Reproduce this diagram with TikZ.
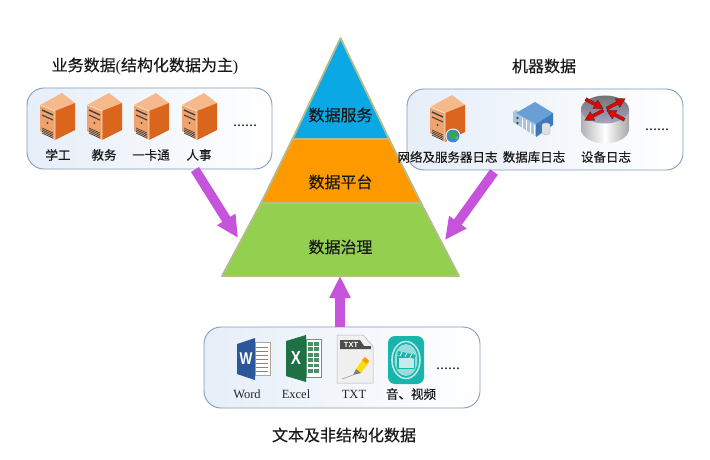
\documentclass[tikz,border=0pt]{standalone}
\usepackage{fontspec}
\setmainfont{Liberation Serif}
\newfontfamily\cjk[FakeBold=0.25]{Noto Sans CJK SC}
\newfontfamily\iconfont{Liberation Sans}
\usetikzlibrary{arrows.meta,shapes.geometric}
\definecolor{boxedge}{HTML}{7F9DBD}
\definecolor{boxtint}{HTML}{E6EEF8}
\definecolor{pyredge}{HTML}{B4BC8C}
\definecolor{pyrblue}{HTML}{0BA8E6}
\definecolor{pyrorange}{HTML}{FF9900}
\definecolor{pyrgreen}{HTML}{93D04F}
\definecolor{arrowpurple}{HTML}{C553DC}
\definecolor{srvfront}{HTML}{F0A36C}
\definecolor{srvtop}{HTML}{F6B98C}
\definecolor{srvside}{HTML}{D9661C}
\definecolor{wordblue}{HTML}{2B579A}
\definecolor{excelgreen}{HTML}{1F7145}
\definecolor{vidteal}{HTML}{17B5AC}
\definecolor{dbtop}{HTML}{6A9FD6}
\definecolor{dbside}{HTML}{3C79B8}
\definecolor{dbfront}{HTML}{A9C4E0}
\tikzset{
  groupbox/.style={draw=boxedge,line width=0.9pt,rounded corners=17pt,left color=boxtint,right color=white},
  layer/.style={draw=pyredge,line width=1.8pt,line join=round},
  title/.style={font=\cjk\fontsize{16}{18}\selectfont,text=black!90,inner sep=0pt},
  bigtitle/.style={font=\cjk\fontsize{16}{18}\selectfont,text=black!90,inner sep=0pt},
  lab/.style={font=\cjk\fontsize{12.5}{14}\selectfont,text=black!90,inner sep=0pt},
  latinlab/.style={font=\fontsize{12.5}{14}\selectfont,text=black!85,inner sep=0pt},
  dots/.style={font=\fontsize{16}{16}\selectfont,text=black!85,inner sep=0pt,anchor=base},
  bigarrow/.style={draw=arrowpurple,line width=9.5pt,-{Triangle[length=22pt,width=20pt,fill=arrowpurple]}},
  srvline/.style={draw=black!75,line width=0.8pt},
  redarrow/.style={draw=black!80,line width=0.3pt,fill=red!92!black},
  wlines/.style={draw=wordblue!70,line width=0.8pt},
  iconletter/.style={font=\iconfont\bfseries\fontsize{#1}{#1}\selectfont,text=white,inner sep=0pt,xscale=0.8},
}
\newcommand{\serverpic}[2]{%
  \begin{scope}[shift={(#1,#2)}]
    \fill[srvfront] (1,12) -- (16,18) -- (16,47) -- (1,38) -- cycle;
    \fill[srvtop] (1,12) -- (23,0) -- (36,10) -- (16,18) -- cycle;
    \fill[srvside] (16,18) -- (36,10) -- (36,37) -- (16,47) -- cycle;
    \draw[white!70!srvtop,line width=0.6pt] (1,12) -- (16,18) -- (16,47);
    \draw[srvline,line width=1.4pt] (3,17) -- (14,22);
    \draw[srvline,line width=1.1pt] (3,22) -- (14,27);
    \fill[black!70] (8.5,30) circle (1.2);
    \foreach \k in {0,1.7,3.4,5.1} \draw[srvline,line width=0.7pt] (3,35+\k) -- (14,40+\k);
  \end{scope}}
\begin{document}
\begin{tikzpicture}[x=1pt,y=-1pt]
\useasboundingbox (0,0) rectangle (710,460);
\fill[white] (0,0) rectangle (710,460);

% group boxes
\node[groupbox,minimum width=245pt,minimum height=81pt,inner sep=0pt] (bizbox) at (149.5,128.5) {};
\node[groupbox,minimum width=276pt,minimum height=81pt,inner sep=0pt] (machbox) at (545,129.5) {};
\node[groupbox,minimum width=276pt,minimum height=81pt,inner sep=0pt] (textbox) at (342,367.5) {};

% pyramid
\coordinate (apex) at (340.5,38);
\coordinate (bl) at (222,276);
\coordinate (br) at (459,276);
\coordinate (l1) at (292.5,139);
\coordinate (r1) at (389,139);
\coordinate (l2) at (261,203);
\coordinate (r2) at (421,203);
\filldraw[layer,fill=pyrgreen] (l2) -- (r2) -- (br) -- (bl) -- cycle;
\filldraw[layer,fill=pyrorange] (l1) -- (r1) -- (r2) -- (l2) -- cycle;
\filldraw[layer,fill=pyrblue] (apex) -- (r1) -- (l1) -- cycle;
\node[bigtitle] (svc) at (340.5,115) {数据服务};
\node[bigtitle] (plat) at (340.5,182) {数据平台};
\node[bigtitle] (gov) at (340.5,247) {数据治理};

% arrows
\coordinate (a1s) at (195,169.5);
\coordinate (a1e) at (238,238);
\coordinate (a2s) at (494,172);
\coordinate (a2e) at (445,240);
\coordinate (a3s) at (340,327);
\coordinate (a3e) at (340,276);
\draw[bigarrow] (a1s) -- (a1e);
\draw[bigarrow] (a2s) -- (a2e);
\draw[bigarrow] (a3s) -- (a3e);

% titles
\node[title] (t1) at (145,66) {\cjk 业务数据{\rmfamily(}结构化数据为主{\rmfamily)}};
\node[title] (t2) at (544,66) {机器数据};
\node[bigtitle] (t3) at (344,435) {文本及非结构化数据};

% business servers
\serverpic{39}{93}
\serverpic{86}{93}
\serverpic{133}{93}
\serverpic{181}{93}
\node[lab] (l-a) at (58,155) {学工};
\node[lab] (l-b) at (104,155) {教务};
\node[lab] (l-c) at (151,155) {一卡通};
\node[lab] (l-d) at (199,155) {人事};
\node[dots] (d1) at (245,126.5) {......};

% machine icons
\serverpic{429}{95}
\fill[white] (453,136) circle (7.5);
\fill[cyan!55!blue!80] (453,136) circle (6.5);
\fill[green!60!black!80] (449,133) -- (454,131) -- (456,135) -- (453,139) -- (450,138) -- cycle;
\fill[green!70!black!70] (457,138) circle (1.8);
\node[lab] (m-a) at (447.5,157) {网络及服务器日志};
\node[lab] (m-b) at (534,157) {数据库日志};
\node[lab] (m-c) at (606,157) {设备日志};
\node[dots] (d2) at (657,130.5) {......};

% database server
\fill[dbfront] (513,112) -- (516,110) -- (537,124) -- (537,137) -- (513,122) -- cycle;
\fill[dbtop] (516,113) -- (535,102) -- (553,113) -- (536,124) -- cycle;
\fill[dbside] (536,124) -- (553,113) -- (553,125) -- (536,137) -- cycle;
\foreach \k in {0,4,8,12} \draw[white,line width=1pt] (522+\k,118+0.6*\k) -- (522+\k,128+0.6*\k);
\fill[black!70] (517.5,118) circle (1.3) (517.5,123) circle (1.3);
\fill[black!12,draw=black!35,line width=0.3pt] (542,124.5) -- (542,133) arc[start angle=180,end angle=0,x radius=4,y radius=1.6] -- (550,124.5) arc[start angle=0,end angle=-180,x radius=4,y radius=1.6] -- cycle;

% router
\shade[left color=black!30,right color=black!35,middle color=white] (581,109) -- (581,129) arc[start angle=180,end angle=0,x radius=24,y radius=14.5] -- (629,109) -- cycle;
\shade[top color=black!55,bottom color=blue!35!black!35] (605,109.5) ellipse [x radius=24,y radius=14];
\begin{scope}[shift={(605,109.5)}]
  \foreach \ang/\dir in {152/-1,28/1,208/1,332/-1}{
    \begin{scope}[rotate=\ang]
      \ifnum\dir=1
        \filldraw[redarrow] (2,-1.6) -- (14,-1.6) -- (14,-5) -- (23,0) -- (14,5) -- (14,1.6) -- (2,1.6) -- cycle;
      \else
        \filldraw[redarrow] (22,-1.6) -- (11,-1.6) -- (11,-5) -- (2,0) -- (11,5) -- (11,1.6) -- (22,1.6) -- cycle;
      \fi
    \end{scope}}
\end{scope}

% Word icon
\fill[white,draw=black!35,line width=0.4pt] (255,342) rectangle (270,375);
\foreach \k in {0,1,2,3,4,5,6} \draw[wlines] (256,347+4*\k) -- (268,347+4*\k);
\fill[wordblue] (237,344) -- (255,338) -- (255,380) -- (237,374) -- cycle;
\node[iconletter=17] (wordw) at (246,359) {W};

% Excel icon
\fill[white,draw=excelgreen!70,line width=0.4pt] (306,339) rectangle (321,377);
\foreach \k in {0,1,2,3,4,5} \fill[excelgreen!80] (308,342+5.4*\k) rectangle (319,345.8+5.4*\k);
\draw[white,line width=0.8pt] (313,340) -- (313,376);
\fill[excelgreen] (286,341) -- (306,335) -- (306,382) -- (286,376) -- cycle;
\node[iconletter=19] (excelx) at (296,358) {X};

% TXT icon
\fill[black!6,draw=black!30,line width=0.5pt] (337,335) -- (363,335) -- (373,346) -- (373,383) -- (337,383) -- cycle;
\fill[black!70] (340,340) -- (360,340) -- (364,346) -- (371,346) -- (371,349) -- (340,349) -- cycle;
\node[font=\iconfont\bfseries\fontsize{7.5}{8}\selectfont,text=white,inner sep=0pt] (txtt) at (351,344.5) {TXT};
\fill[yellow!80!orange] (356,369) -- (364,358) -- (369,362) -- (361,373) -- cycle;
\fill[orange!80!yellow] (362,360) -- (365,357) -- (369,361) -- (366,364) -- cycle;
\fill[black!50] (356,369) -- (361,373) -- (353,375) -- cycle;
\draw[black!35,line width=0.7pt] (342,379) -- (353,375);

% video icon
\fill[vidteal,rounded corners=7pt] (388,336) rectangle (424,384);
\draw[white!70!vidteal,line width=1.6pt] (406,360) ellipse [x radius=14,y radius=18.5];
\fill[white!55!vidteal] (406,360) ellipse [x radius=11.5,y radius=16];
\fill[vidteal] (397,356) rectangle (415,369);
\fill[white!75!vidteal] (398.5,358) rectangle (413.5,367.5);
\fill[vidteal,rotate around={-12:(397,356)}] (397,351) rectangle (415,355);
\draw[white,line width=0.8pt,rotate around={-12:(397,356)}] (401,351) -- (400,355) (406,351) -- (405,355) (411,351) -- (410,355);

% bottom labels
\node[latinlab] (b-a) at (247,394) {Word};
\node[latinlab] (b-b) at (296,394) {Excel};
\node[latinlab] (b-c) at (354,394) {TXT};
\node[lab] (b-d) at (411,394) {音、视频};
\node[dots] (d3) at (448,369.5) {......};
\end{tikzpicture}
\end{document}
